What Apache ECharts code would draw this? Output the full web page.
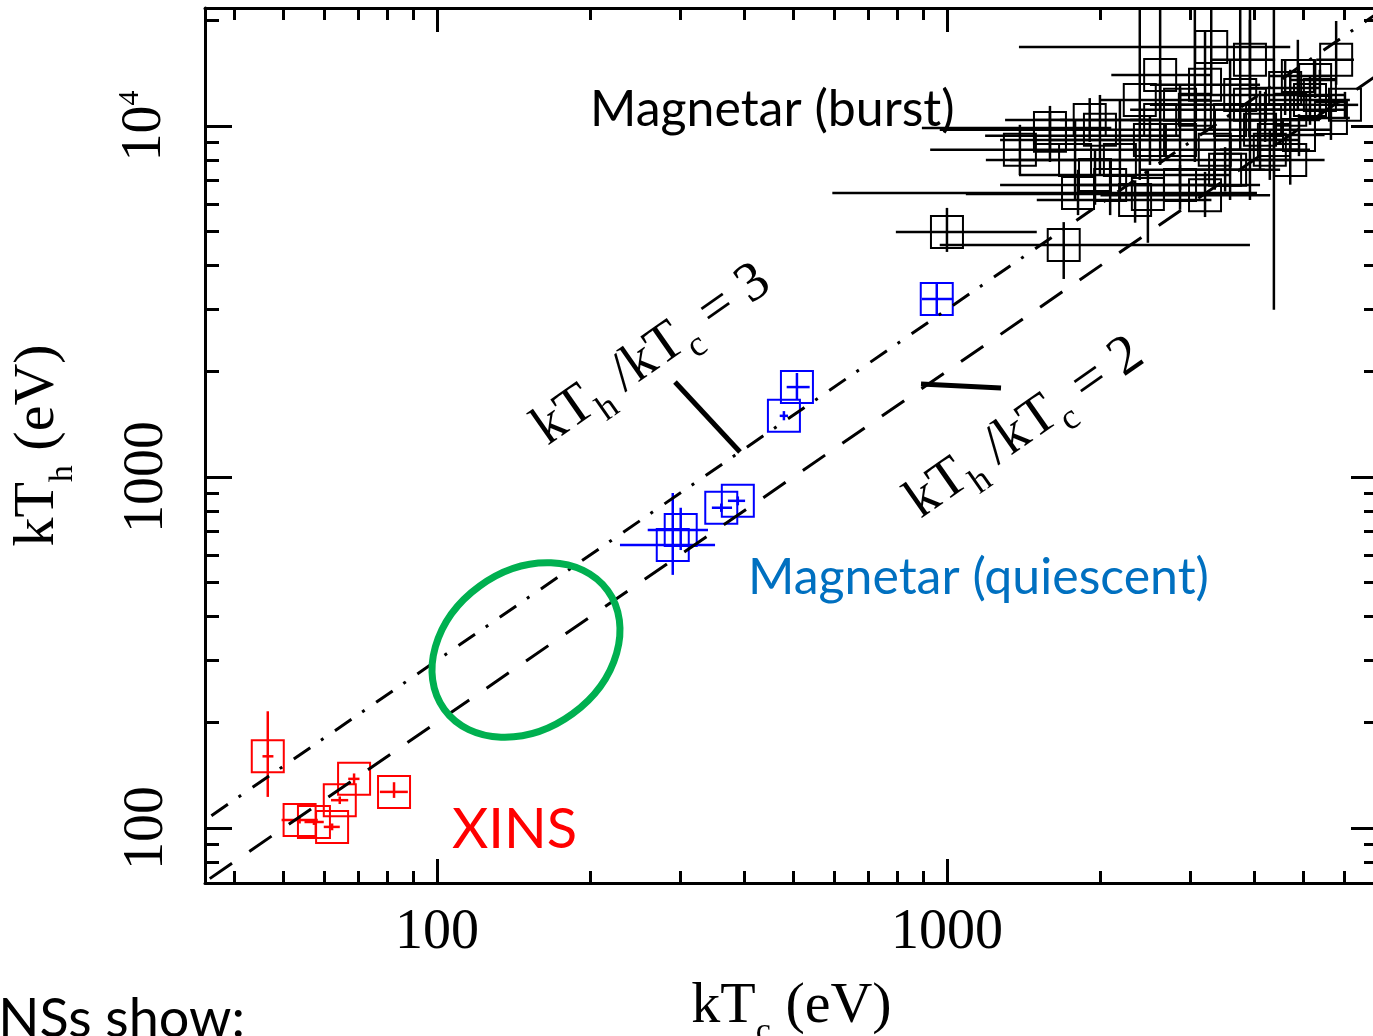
<!DOCTYPE html>
<html>
<head>
<meta charset="utf-8">
<script src="https://cdn.jsdelivr.net/npm/echarts@6.0.0/dist/echarts.min.js"></script>
<style>
  html, body { margin: 0; padding: 0; background: #fff; }
  #main { width: 1373px; height: 1036px; }
</style>
</head>
<body>
<div id="main"></div>
<script>
// each row: [kTc, kTh, kTc low, kTc high, kTh low, kTh high]  (eV)
var xinsPoints = [
  [46.6, 160, 45.5, 47.8, 122.6, 215],
  [53.8, 105.4, 49.6, 58.4, 103, 108],
  [57.4, 104, 55, 60, 102, 106],
  [62.3, 100.7, 60, 64.5, 98.5, 103],
  [64.5, 120, 62, 67, 117, 123],
  [68.8, 138, 67, 70.5, 133, 143],
  [82.4, 126.7, 77.3, 87.7, 121.8, 135]
];
var quiescentPoints = [
  [508, 1803, 485, 538, 1656, 1977],
  [479, 1493, 470, 488, 1450, 1540],
  [389, 855, 372, 402, 830, 880],
  [361, 817, 346, 379, 795, 840],
  [300.6, 706, 259, 340, 619, 817],
  [290, 640, 228.5, 351, 526, 900],
  [955, 3215, 893, 1028, 2900, 3575]
];
var burstPoints = [
  [1000, 4990, 794, 1500, 4375, 5840],
  [1694, 4580, 968, 3927, 3664, 5320],
  [3297, 16790, 1384, 4710, 12250, 25000],
  [5795, 15420, 5297, 6280, 13100, 19900],
  [4375, 9120, 4110, 4710, 2993, 30000],
  [1592, 9370, 1188, 2864, 7890, 11400],
  [1807, 6440, 596, 4053, 5570, 7500],
  [2477, 6400, 1089, 3758, 4645, 7500],
  [1951, 7245, 1384, 3590, 5960, 8550],
  [3206, 13090, 2500, 4110, 9750, 18750],
  [4875, 13870, 4295, 5635, 11120, 17590],
  [5660, 10540, 4920, 6165, 9120, 12250],
  [2183, 8000, 1192, 4710, 6150, 11860],
  [2864, 9120, 1592, 4920, 6580, 12680],
  [3590, 10400, 2286, 5385, 7500, 15420],
  [3927, 11480, 2618, 5900, 6150, 20050],
  [2618, 10400, 1667, 3590, 7740, 13520],
  [1995, 9750, 968, 3162, 7245, 12250],
  [3350, 8550, 2183, 4920, 6580, 11120],
  [4110, 9750, 3162, 5635, 7500, 12590],
  [4710, 11120, 3758, 6030, 8550, 14450],
  [5150, 11860, 4295, 6165, 10070, 13960],
  [2388, 11860, 1995, 3280, 7015, 25000],
  [3062, 11120, 2286, 4500, 7890, 25000],
  [3758, 12250, 2864, 4920, 8550, 25000],
  [1783, 8000, 1330, 2500, 6150, 10400],
  [2089, 6790, 1271, 3590, 5570, 7945],
  [2864, 6790, 1824, 4110, 5770, 7740],
  [4295, 8550, 3428, 5150, 7015, 9750],
  [5385, 12250, 4920, 6030, 10400, 14450],
  [1390, 8550, 927, 2183, 7245, 10070],
  [3590, 7500, 2388, 4500, 6150, 9120],
  [2500, 9120, 1271, 3927, 7740, 10740],
  [4603, 12820, 3927, 5385, 10740, 15420],
  [1592, 9870, 893, 2100, 8500, 11000],
  [2864, 11480, 2500, 3300, 10000, 13000],
  [3510, 7500, 3000, 4200, 6500, 8700],
  [4205, 10400, 3600, 4900, 9000, 12500],
  [4900, 9420, 4300, 5500, 8200, 10800],
  [6030, 11480, 5600, 6400, 10500, 12500],
  [2338, 6150, 1500, 3300, 5300, 7000],
  [3206, 6350, 2000, 4300, 5500, 7400],
  [1905, 10400, 1300, 2600, 9000, 12000],
  [3927, 15420, 3300, 4400, 12000, 25000],
  [2618, 13960, 2100, 3300, 11000, 25000],
  [4710, 8000, 4000, 5500, 6800, 9400],
  [5270, 13520, 4700, 5800, 12000, 15500]
];
// kTh/kTc = 2 and = 3 reference lines
var ratio2Line = [[30, 60], [8000, 16000]];
var ratio3Line = [[30, 90], [8000, 24000]];

var xMajor = [100, 1000];
var xMinor = [40, 50, 60, 70, 80, 90, 200, 300, 400, 500, 600, 700, 800, 900, 2000, 3000, 4000, 5000, 6000];
var yMajor = [100, 1000, 10000];
var yMinor = [80, 90, 200, 300, 400, 500, 600, 700, 800, 900, 2000, 3000, 4000, 5000, 6000, 7000, 8000, 9000, 20000];

var X_MIN = 35.1, X_MAX = 7000, Y_MIN = 69.7, Y_MAX = 21670;
var serif = 'Liberation Serif';
var sans = 'Lato';

function xAxisDef(pos, ticks, len, major) {
  return {
    type: 'log', min: X_MIN, max: X_MAX, position: pos,
    axisLine: { show: major, lineStyle: { color: '#000', width: 3 } },
    axisTick: { show: true, inside: true, length: len, customValues: ticks, lineStyle: { color: '#000', width: 3 } },
    axisLabel: { show: major && pos === 'bottom', customValues: xMajor, margin: 22,
      fontFamily: serif, fontSize: 56, color: '#000',
      formatter: function (v) { return String(Math.round(v)); } },
    splitLine: { show: false }, minorTick: { show: false }
  };
}
function yAxisDef(pos, ticks, len, major) {
  return {
    type: 'log', min: Y_MIN, max: Y_MAX, position: pos,
    axisLine: { show: major, lineStyle: { color: '#000', width: 3 } },
    axisTick: { show: true, inside: true, length: len, customValues: ticks, lineStyle: { color: '#000', width: 3 } },
    axisLabel: { show: major && pos === 'left', customValues: yMajor, rotate: 90, margin: 30,
      fontFamily: serif, fontSize: 56, color: '#000',
      formatter: function (v) { return v >= 9999 ? '{n|10}{sup|4}' : '{n|' + Math.round(v) + '}'; },
      rich: {
        n: { fontFamily: serif, fontSize: 56, color: '#000' },
        sup: { fontFamily: serif, fontSize: 30, color: '#000', padding: [0, 0, 30, 0] }
      }
    },
    splitLine: { show: false }, minorTick: { show: false }
  };
}

var xAxes = [
  xAxisDef('bottom', xMajor, 24, true),
  xAxisDef('bottom', xMinor, 12, false),
  xAxisDef('top', xMajor, 24, true),
  xAxisDef('top', xMinor, 12, false)
];
xAxes[0].name = '{n|kT}{sub|c}{n| (eV)}';
xAxes[0].nameLocation = 'middle';
xAxes[0].nameGap = 82;
xAxes[0].nameTextStyle = {
  rich: {
    n: { fontFamily: serif, fontSize: 58, color: '#000' },
    sub: { fontFamily: serif, fontSize: 34, color: '#000', padding: [50, 0, 0, 0] }
  }
};
var yAxes = [
  yAxisDef('left', yMajor, 27, true),
  yAxisDef('left', yMinor, 14, false),
  yAxisDef('right', yMajor, 27, true),
  yAxisDef('right', yMinor, 14, false)
];
yAxes[0].name = '{n|kT}{sub|h}{n| (eV)}';
yAxes[0].nameLocation = 'middle';
yAxes[0].nameGap = 125;
yAxes[0].nameTextStyle = {
  rich: {
    n: { fontFamily: serif, fontSize: 58, color: '#000' },
    sub: { fontFamily: serif, fontSize: 34, color: '#000', padding: [50, 0, 0, 0] }
  }
};

function errorBoxes(color) {
  return function (params, api) {
    var x = api.value(0), y = api.value(1);
    var c = api.coord([x, y]);
    var l = api.coord([api.value(2), y]);
    var r = api.coord([api.value(3), y]);
    var lo = api.coord([x, api.value(4)]);
    var hi = api.coord([x, api.value(5)]);
    var h = 16;
    return {
      type: 'group',
      children: [
        { type: 'line', shape: { x1: l[0], y1: c[1], x2: r[0], y2: c[1] }, style: { stroke: color, lineWidth: 2.5 } },
        { type: 'line', shape: { x1: c[0], y1: lo[1], x2: c[0], y2: hi[1] }, style: { stroke: color, lineWidth: 2.5 } },
        { type: 'rect', shape: { x: c[0] - h, y: c[1] - h, width: 2 * h, height: 2 * h },
          style: { fill: 'none', stroke: color, lineWidth: 2 } }
      ]
    };
  };
}

function ratioLabel(num) {
  return '{n|kT}{sub|h}{n| /kT}{sub|c}{n| = ' + num + '}';
}
var ratioRich = {
  n: { fontFamily: serif, fontSize: 56, fill: '#000' },
  sub: { fontFamily: serif, fontSize: 36, fill: '#000', padding: [38, 0, 0, 0] }
};

var chart = echarts.init(document.getElementById('main'));
chart.setOption({
  animation: false,
  backgroundColor: '#fff',
  grid: { left: 205, top: 8, width: 1173, height: 875, containLabel: false, outerBoundsMode: 'none' },
  xAxis: xAxes,
  yAxis: yAxes,
  series: [
    { type: 'line', data: ratio2Line, symbol: 'none', clip: true,
      lineStyle: { color: '#000', width: 3, type: [27, 21] } },
    { type: 'line', data: ratio3Line, symbol: 'none', clip: true,
      lineStyle: { color: '#000', width: 3, type: [20, 13, 3, 14] } },
    { type: 'custom', data: xinsPoints, clip: true, renderItem: errorBoxes('#ff0000'), encode: { x: 0, y: 1 } },
    { type: 'custom', data: quiescentPoints, clip: true, renderItem: errorBoxes('#0000ff'), encode: { x: 0, y: 1 } },
    { type: 'custom', data: burstPoints, clip: true, renderItem: errorBoxes('#000000'), encode: { x: 0, y: 1 } }
  ],
  graphic: [
    { type: 'ellipse', x: 526, y: 650, rotation: 0.628, z: 50,
      shape: { cx: 0, cy: 0, rx: 101, ry: 79 },
      style: { fill: 'none', stroke: '#00b050', lineWidth: 7 } },
    { type: 'text', x: 590, y: 110, z: 50,
      style: { text: 'Magnetar (burst)', fontFamily: sans, fontSize: 50, fill: '#000', verticalAlign: 'middle' } },
    { type: 'text', x: 748, y: 578, z: 50,
      style: { text: 'Magnetar (quiescent)', fontFamily: sans, fontSize: 50, fill: '#0070c0', verticalAlign: 'middle' } },
    { type: 'text', x: 452, y: 830, z: 50,
      style: { text: 'XINS', fontFamily: sans, fontSize: 56, fill: '#ff0000', verticalAlign: 'middle' } },
    { type: 'text', x: 245, y: 1020, z: 50,
      style: { text: 'NSs show:', fontFamily: sans, fontSize: 54, fill: '#000', align: 'right', verticalAlign: 'middle' } },
    { type: 'text', x: 652, y: 355, rotation: 0.61, z: 50,
      style: { text: ratioLabel(3), rich: ratioRich, align: 'center', verticalAlign: 'middle' } },
    { type: 'text', x: 1025, y: 428, rotation: 0.61, z: 50,
      style: { text: ratioLabel(2), rich: ratioRich, align: 'center', verticalAlign: 'middle' } },
    { type: 'line', z: 50, shape: { x1: 675, y1: 382, x2: 740, y2: 452 }, style: { stroke: '#000', lineWidth: 5 } },
    { type: 'line', z: 50, shape: { x1: 921, y1: 384, x2: 1001, y2: 388 }, style: { stroke: '#000', lineWidth: 5 } }
  ]
});
</script>
</body>
</html>
